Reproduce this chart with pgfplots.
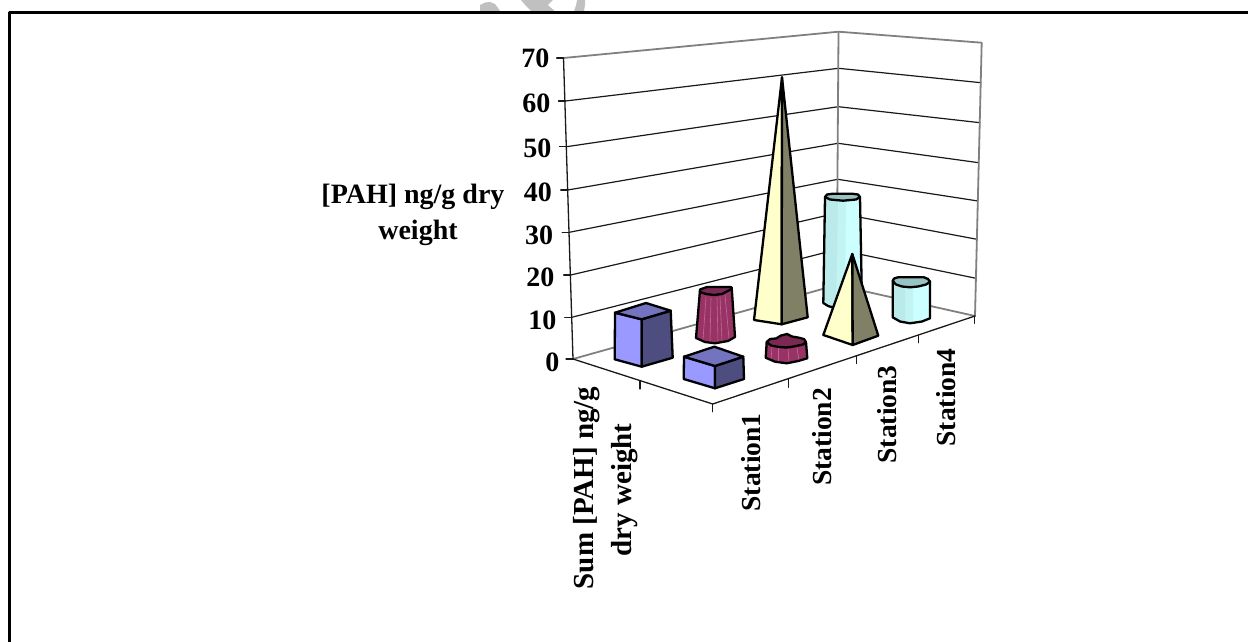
\documentclass[border=0pt]{standalone}
\usepackage{fontspec}
\setmainfont{Liberation Serif}
\usepackage{pgfplots}
\pgfplotsset{compat=1.18}

\definecolor{blueL}{HTML}{9999FF}
\definecolor{blueT}{HTML}{7373BF}
\definecolor{blueD}{HTML}{4D4D80}
\definecolor{redB}{HTML}{993366}
\definecolor{redT}{HTML}{7A2952}
\definecolor{redS}{HTML}{BC6C94}
\definecolor{yelL}{HTML}{FFFFCC}
\definecolor{yelD}{HTML}{808066}
\definecolor{cyaL}{HTML}{CCFFFF}
\definecolor{cyaM}{HTML}{C2F4F4}
\definecolor{cyaD}{HTML}{BAEAEA}
\definecolor{cyaT}{HTML}{99C2C2}
\definecolor{wallgray}{HTML}{808080}
\definecolor{stamp}{HTML}{C0C0C0}

\newcommand{\lab}{\fontsize{28}{32}\selectfont\bfseries}
\newcommand{\labs}{\fontsize{27.5}{32}\selectfont\bfseries}
\newcommand{\labw}{\fontsize{29}{33}\selectfont\bfseries}

\begin{document}
\begin{tikzpicture}
\path[use as bounding box] (0,0) rectangle (1248pt,642pt);
\begin{axis}[
  at={(0,0)}, anchor=south west,
  scale only axis, width=1248pt, height=642pt,
  xmin=0, xmax=1248, ymin=0, ymax=642, y dir=reverse,
  hide axis, clip=false,
  every axis plot/.append style={mark=none, line join=round, line cap=round},
  grid line/.style={draw=black!90, line width=1.2pt},
  wall line/.style={draw=wallgray, line width=1.8pt},
  axis line/.style={draw=black!90, line width=1.3pt},
  face/.style={fill=#1, draw=black, line width=2.3pt},
  body/.style={fill=#1, draw=none},
  outline/.style={draw=black, line width=2.3pt},
  streak/.style={draw=redS, line width=0.6pt},
  every node/.append style={inner sep=0pt},
]

% grey stamp cut off by the top of the frame
\addplot[fill=stamp, draw=none] coordinates {(480,5) (485,2.5) (490,2) (495,4) (498,8) (500,11) (480,11)} --cycle;
\addplot[fill=stamp, draw=none] coordinates {(521,0) (585,0) (585,5) (584,11) (531,11) (526,6)} --cycle;
\addplot[fill=white, draw=none] coordinates {(553,0) (548,5) (555,11) (574,11) (576,5) (577,0)} --cycle;

% frame
\addplot[draw=black, line width=2.6pt, line cap=butt] coordinates {(9.5,642) (9.5,12.3) (1248,12.3)};

% gridlines on the two walls
\addplot[grid line] coordinates {(565.5,101) (838.5,68.3) (981,82.7)};
\addplot[grid line] coordinates {(566.5,146.7) (838.3,106.7) (980,122.7)};
\addplot[grid line] coordinates {(567.8,190) (838,143.3) (978.7,162.7)};
\addplot[grid line] coordinates {(569.3,232.3) (837.7,179.3) (978,201)};
\addplot[grid line] coordinates {(570.7,275) (837.3,213) (977,239.3)};
\addplot[grid line] coordinates {(571.8,317.3) (837,249.5) (976,278.3)};

% wall outlines and rear floor edges
\addplot[wall line] coordinates {(563.5,58) (838.5,31.7) (981.7,42.7) (975,316)};
\addplot[wall line] coordinates {(838.5,31.7) (836.7,285)};
\addplot[wall line] coordinates {(573,359) (836.7,285) (975,316)};

% value axis with its ticks
\addplot[axis line] coordinates {(563.5,58) (573,359)};
\addplot[axis line] coordinates {(556.7,58) (563.5,58)};
\addplot[axis line] coordinates {(558.5,101) (565.5,101)};
\addplot[axis line] coordinates {(559.5,146.7) (566.5,146.7)};
\addplot[axis line] coordinates {(560.8,190) (567.8,190)};
\addplot[axis line] coordinates {(562.3,232.3) (569.3,232.3)};
\addplot[axis line] coordinates {(563.7,275) (570.7,275)};
\addplot[axis line] coordinates {(564.8,317.3) (571.8,317.3)};
\addplot[axis line] coordinates {(566,359) (573,359)};

% front floor edges with their ticks
\addplot[axis line] coordinates {(573,359) (712.7,404) (975,316)};
\addplot[axis line] coordinates {(640,381) (640,389)};
\addplot[axis line] coordinates {(712.7,404) (712.7,411.7)};
\addplot[axis line] coordinates {(788.3,379) (788.3,387.3)};
\addplot[axis line] coordinates {(856.7,356) (856.7,363.5)};
\addplot[axis line] coordinates {(918.3,335.5) (918.3,342.7)};
\addplot[axis line] coordinates {(974.5,316) (974.5,323.3)};

% rear cylinder, back row
\addplot[body=cyaL] coordinates {(825,197) (860,197) (862,304) (855,308) (843,310) (835,308) (828,306) (823.3,303)} --cycle;
\addplot[body=cyaM] coordinates {(825,197) (846,201) (845,310) (835,308) (828,306) (823.3,303)} --cycle;
\addplot[body=cyaD] coordinates {(825,197) (838,200) (836,308) (828,306) (823.3,303)} --cycle;
\addplot[outline] coordinates {(825,197) (860,197) (862,304) (855,308) (843,310) (835,308) (828,306) (823.3,303)} --cycle;
\addplot[face=cyaT] coordinates {(825,197) (827,194.5) (833,193.7) (852,193.7) (858,194.5) (860,197) (856,199.5) (843,200.7) (830,199.5)} --cycle;

% back row, rear box
\addplot[face=blueL] coordinates {(615,312.7) (641.7,319.3) (641.7,366.7) (614.7,359.3)} --cycle;
\addplot[face=blueD] coordinates {(641.7,319.3) (670.7,310.7) (672.7,357.7) (641.7,366.7)} --cycle;
\addplot[face=blueT] coordinates {(615,312.7) (646,303) (670.7,310.7) (641.7,319.3)} --cycle;

% back row, cone section
\addplot[body=redB] coordinates {(700,290) (731.7,287.7) (735,337) (728,341) (715,343.3) (705,342) (696,338)} --cycle;
\addplot[streak] coordinates {(706,297) (703,340)};
\addplot[streak] coordinates {(711,298) (710,342)};
\addplot[streak] coordinates {(717,298) (718,342)};
\addplot[streak] coordinates {(720,297) (722,341)};
\addplot[streak] coordinates {(725,295) (729,339)};
\addplot[outline] coordinates {(700,290) (731.7,287.7) (735,337) (728,341) (715,343.3) (705,342) (696,338)} --cycle;
\addplot[face=redT] coordinates {(700,289.5) (707,287) (722,287) (731,287) (731.7,289) (722,294) (714,295) (706,294) (700,292)} --cycle;

% back row, tall pyramid
\addplot[face=yelL] coordinates {(782,77.3) (754,320) (781.7,324.3)} --cycle;
\addplot[face=yelD] coordinates {(782,77.3) (781.7,324.3) (807.7,317.3)} --cycle;

% front row, box
\addplot[face=blueL] coordinates {(684,356.7) (715,366) (715,388.3) (683.7,379)} --cycle;
\addplot[face=blueD] coordinates {(715,366) (743.3,356.7) (744,379) (715,388.3)} --cycle;
\addplot[face=blueT] coordinates {(684,356.7) (714.3,346.7) (743.3,356.7) (715,366)} --cycle;

% front row, cone section
\addplot[body=redB] coordinates {(766.7,342) (806,342) (807.3,358.3) (798.3,361) (786.7,363.3) (775,361.7) (765.7,357.7)} --cycle;
\addplot[streak] coordinates {(772,347) (771,360)};
\addplot[streak] coordinates {(778,348) (778,361)};
\addplot[streak] coordinates {(788,349) (789,362)};
\addplot[streak] coordinates {(797,348) (799,360)};
\addplot[outline] coordinates {(766.7,342) (806,342) (807.3,358.3) (798.3,361) (786.7,363.3) (775,361.7) (765.7,357.7)} --cycle;
\addplot[face=redT] coordinates {(766.7,342) (770,339) (776,338.5) (781,335.5) (787,334) (792,336.5) (798,337.5) (804,339) (806,342) (803,344.5) (796,346) (791,347) (786,347.5) (779,347) (771,345.5)} --cycle;

% front row, short pyramid
\addplot[face=yelL] coordinates {(852.3,254) (823.3,335) (852.7,345)} --cycle;
\addplot[face=yelD] coordinates {(852.3,254) (852.7,345) (878.3,335.7)} --cycle;

% front row, cylinder
\addplot[body=cyaL] coordinates {(892.7,281) (930,281) (930,318.3) (922,321.5) (910,323.3) (900,321.5) (892.7,317.3)} --cycle;
\addplot[body=cyaM] coordinates {(892.7,281) (913,287) (913,323) (900,321.5) (892.7,317.3)} --cycle;
\addplot[body=cyaD] coordinates {(892.7,281) (905,286) (905,322.5) (900,321.5) (892.7,317.3)} --cycle;
\addplot[outline] coordinates {(892.7,281) (930,281) (930,318.3) (922,321.5) (910,323.3) (900,321.5) (892.7,317.3)} --cycle;
\addplot[face=cyaT] coordinates {(892.7,281) (894,278.5) (898,277.3) (924,277.3) (928,279) (930,282) (926,284.5) (918,286.5) (910,287.3) (902,286.5) (896,284.5)} --cycle;

% text
\node[font=\lab, anchor=east] at (axis cs:553,58) {70};
\node[font=\lab, anchor=east] at (axis cs:554,103) {60};
\node[font=\lab, anchor=east] at (axis cs:555,148) {50};
\node[font=\lab, anchor=east] at (axis cs:555.5,192) {40};
\node[font=\lab, anchor=east] at (axis cs:556.7,235) {30};
\node[font=\lab, anchor=east] at (axis cs:558,277) {20};
\node[font=\lab, anchor=east] at (axis cs:560,320) {10};
\node[font=\lab, anchor=east] at (axis cs:563,362) {0};

\node[font=\lab] at (axis cs:413,197) {[PAH] ng/g dry};
\node[font=\lab] at (axis cs:418,233) {weight};

\node[font=\labw, rotate=90, anchor=center] at (axis cs:587,488) {Sum [PAH] ng/g};
\node[font=\labw, rotate=90, anchor=center] at (axis cs:625,490) {dry weight};
\node[font=\labs, rotate=90, anchor=east] at (axis cs:751.5,410) {Station1};
\node[font=\labs, rotate=90, anchor=east] at (axis cs:822,384.5) {Station2};
\node[font=\labs, rotate=90, anchor=east] at (axis cs:887.5,362) {Station3};
\node[font=\labs, rotate=90, anchor=east] at (axis cs:946,345) {Station4};
\end{axis}
\end{tikzpicture}
\end{document}
